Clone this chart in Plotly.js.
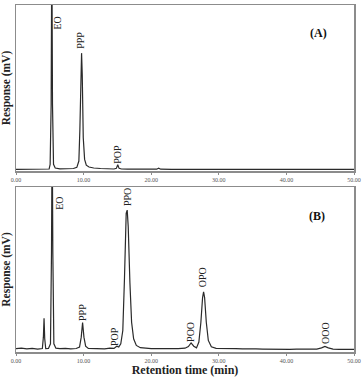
<!DOCTYPE html>
<html>
<head>
<meta charset="utf-8">
<script src="https://cdn.plot.ly/plotly-3.0.1.min.js"></script>
<style>html,body{margin:0;padding:0;background:#fff;}#chart{width:362px;height:377px;}</style>
</head>
<body>
<div id="chart"></div>
<script>
// Panel A chromatogram (retention time in min, response in % of panel height)
const topTime = [0, 1, 2, 3, 4, 4.9, 5.05, 5.2, 5.3, 5.4, 5.55, 5.8, 6.5, 7.5, 8.5, 9.0, 9.3, 9.45, 9.6, 9.7, 9.8, 9.95, 10.15, 10.4, 10.8, 11.5, 12.5, 13.5, 14.5, 14.85, 15.05, 15.25, 15.6, 16.5, 18, 19.5, 20.8, 21.1, 21.4, 23, 25, 28, 31, 34, 37, 40, 43, 46, 50];
const topSignal = [1, 1, 1.1, 1, 1, 1.2, 4, 40, 140, 40, 4, 1.8, 1.3, 1.2, 1.5, 2.2, 6, 25, 62, 71, 58, 20, 7, 3.5, 2.4, 1.8, 1.5, 1.3, 1.2, 1.6, 3.8, 1.6, 1.2, 1.1, 1.1, 1, 1.1, 1.7, 1.1, 1, 1, 1, 1, 1, 1, 1, 1, 1, 1];

// Panel B chromatogram
const botTime = [0, 0.8, 1.6, 2.4, 3.2, 3.9, 4.05, 4.15, 4.25, 4.4, 4.8, 5.1, 5.25, 5.35, 5.45, 5.6, 5.9, 6.5, 7.3, 8.1, 8.9, 9.4, 9.65, 9.85, 10.05, 10.3, 10.7, 11.5, 12.3, 13.1, 13.9, 14.5, 14.9, 15.2, 15.5, 15.8, 16.05, 16.3, 16.45, 16.6, 16.85, 17.1, 17.4, 17.8, 18.4, 19.2, 20, 21, 22, 23, 24, 25, 25.5, 25.9, 26.3, 26.7, 27.05, 27.35, 27.6, 27.75, 27.9, 28.15, 28.45, 28.9, 29.6, 30.5, 31.5, 32.5, 33.5, 34.5, 35.5, 36.5, 37.5, 38.5, 39.5, 40.5, 41.5, 42.5, 43.5, 44.5, 45.2, 45.7, 46.2, 46.9, 47.8, 48.7, 49.4, 50];
const botSignal = [2, 2.3, 1.9, 2.2, 1.8, 2.1, 9, 20.5, 8, 2, 2.2, 5, 60, 140, 60, 5, 2.3, 2, 2.2, 1.9, 2.1, 3, 9, 17.8, 9, 3.5, 2.2, 2, 2.1, 1.9, 2.4, 2.2, 3.5, 3, 5, 13, 45, 84, 86, 76, 42, 18, 8, 4, 2.6, 2.2, 2, 2.1, 1.9, 2, 2.1, 2.3, 3.3, 5.5, 3.5, 2.5, 6, 18, 33, 36.5, 33, 18, 7, 3.2, 2.2, 2, 1.8, 2, 1.9, 1.7, 1.9, 1.8, 1.7, 1.8, 1.7, 1.6, 1.8, 1.7, 1.6, 1.8, 2.5, 3.4, 2.5, 1.8, 1.6, 1.7, 1.5, 1.6];

// Peak labels
const topPeakNames = ["EO", "PPP", "POP"];
const topPeakX = [6.1, 9.6, 15.1];
const topPeakY = [89, 79, 9.8];
const botPeakNames = ["EO", "PPP", "POP", "PPO", "POO", "OPO", "OOO"];
const botPeakX = [6.4, 9.85, 14.6, 16.6, 25.7, 27.6, 45.7];
const botPeakY = [90, 24, 9.5, 94, 12, 45, 11.5];

const tickVals = [0, 10, 20, 30, 40, 50];
const tickText = ["0.00", "10.00", "20.00", "30.00", "40.00", "50.00"];

const serif = "Liberation Serif, Times New Roman, serif";
const lineStyle = {color: "#2a2a2a", width: 1.2};

const traces = [
  {x: topTime, y: topSignal, type: "scatter", mode: "lines", line: lineStyle, xaxis: "x", yaxis: "y", hoverinfo: "skip"},
  {x: botTime, y: botSignal, type: "scatter", mode: "lines", line: lineStyle, xaxis: "x2", yaxis: "y2", hoverinfo: "skip"}
];

function xAxis(domainAnchor) {
  return {
    anchor: domainAnchor, range: [0, 50], tickvals: tickVals, ticktext: tickText,
    tickfont: {family: serif, size: 6, color: "#555"},
    showline: true, mirror: true, linecolor: "#8c8c8c", linewidth: 1.5,
    ticks: "outside", ticklen: 2, tickcolor: "#8c8c8c", showgrid: false, zeroline: false,
    ticklabelstandoff: 0
  };
}
function yAxis(domain, anchor) {
  return {
    domain: domain, anchor: anchor, range: [0, 100], showticklabels: false, ticks: "",
    showline: true, mirror: true, linecolor: "#8c8c8c", linewidth: 1.5, showgrid: false, zeroline: false,
    title: {text: "<b>Response (mV)</b>", font: {family: serif, size: 11.5, color: "#222"}, standoff: 2}
  };
}

const annotations = [];
topPeakNames.forEach((n, i) => annotations.push({
  text: n, x: topPeakX[i], y: topPeakY[i], xref: "x", yref: "y", showarrow: false,
  textangle: -90, xanchor: "center", yanchor: "middle", font: {family: serif, size: 10, color: "#222"}
}));
botPeakNames.forEach((n, i) => annotations.push({
  text: n, x: botPeakX[i], y: botPeakY[i], xref: "x2", yref: "y2", showarrow: false,
  textangle: -90, xanchor: "center", yanchor: "middle", font: {family: serif, size: 10, color: "#222"}
}));
annotations.push({text: "<b>(A)</b>", x: 44.7, y: 83, xref: "x", yref: "y", showarrow: false,
  xanchor: "center", yanchor: "middle", font: {family: serif, size: 12, color: "#111"}});
annotations.push({text: "<b>(B)</b>", x: 44.5, y: 82.4, xref: "x2", yref: "y2", showarrow: false,
  xanchor: "center", yanchor: "middle", font: {family: serif, size: 12, color: "#111"}});

const layout = {
  width: 362, height: 377,
  margin: {l: 16, r: 8, t: 5, b: 25},
  paper_bgcolor: "#fff", plot_bgcolor: "#fff",
  showlegend: false,
  xaxis: xAxis("y"),
  yaxis: yAxis([0.5216, 1.0], "x"),
  xaxis2: xAxis("y2"),
  yaxis2: yAxis([0, 0.4755], "x2"),
  annotations: annotations,
  font: {family: serif}
};
layout.xaxis2.title = {text: "<b>Retention time (min)</b>", font: {family: serif, size: 12, color: "#222"}, standoff: 5};

Plotly.newPlot("chart", traces, layout, {displayModeBar: false, staticPlot: true});
</script>
</body>
</html>
